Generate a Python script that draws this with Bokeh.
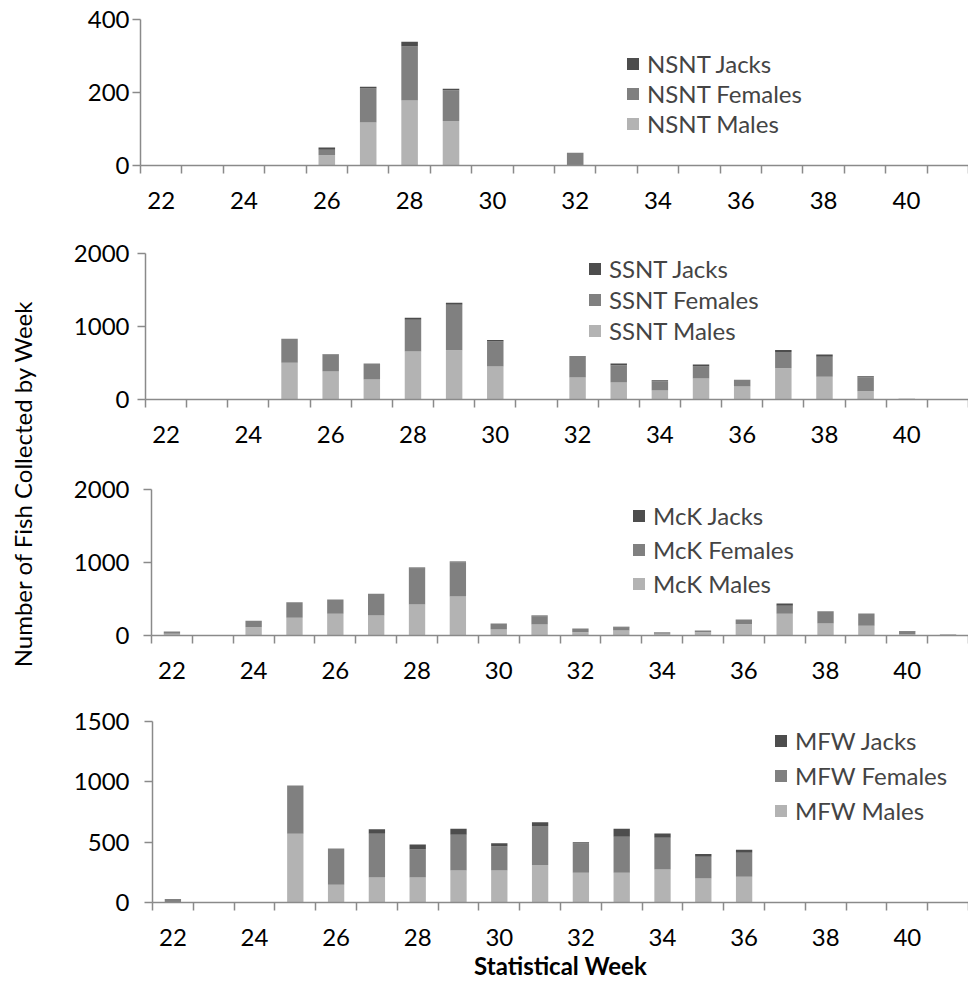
import numpy as np
from bokeh.plotting import figure
from bokeh.models import (Range1d, FixedTicker, LinearAxis, Legend, LegendItem,
                          Label, ColumnDataSource, Spacer)
from bokeh.layouts import row, column
from bokeh.embed import file_html
from bokeh.resources import INLINE

# ---------------- data ----------------
weeks = list(range(22, 42))
x_tick_weeks = list(range(22, 41, 2))

nsnt_males   = [0, 0, 0, 0, 28, 118, 178, 122, 0, 0, 0, 0, 0, 0, 0, 0, 0, 0, 0, 0]
nsnt_females = [0, 0, 0, 0, 15, 93, 148, 84, 0, 0, 35, 0, 0, 0, 0, 0, 0, 0, 0, 0]
nsnt_jacks   = [0, 0, 0, 0, 6, 5, 13, 4, 0, 0, 0, 0, 0, 0, 0, 0, 0, 0, 0, 0]

ssnt_males   = [0, 0, 0, 505, 383, 273, 656, 673, 451, 0, 300, 232, 123, 287, 178, 428, 310, 113, 0, 0]
ssnt_females = [0, 0, 0, 328, 231, 219, 437, 625, 345, 0, 297, 237, 127, 164, 91, 223, 277, 192, 10, 0]
ssnt_jacks   = [0, 0, 0, 0, 5, 0, 27, 27, 20, 0, 0, 23, 14, 27, 0, 28, 28, 13, 0, 0]

mck_males   = [25, 0, 114, 242, 297, 274, 425, 534, 82, 151, 46, 68, 23, 46, 155, 297, 164, 132, 20, 0]
mck_females = [30, 0, 87, 214, 196, 297, 493, 470, 82, 113, 50, 42, 23, 22, 64, 109, 169, 169, 35, 12]
mck_jacks   = [0, 0, 0, 0, 0, 0, 13, 10, 0, 10, 0, 9, 0, 0, 0, 32, 0, 0, 5, 0]

mfw_males   = [0, 0, 0, 569, 147, 207, 207, 265, 265, 310, 246, 246, 273, 199, 213, 0, 0, 0, 0, 0]
mfw_females = [30, 0, 0, 400, 300, 362, 232, 296, 199, 323, 243, 298, 263, 180, 199, 0, 0, 0, 0, 0]
mfw_jacks   = [0, 0, 0, 0, 0, 39, 42, 50, 28, 33, 11, 67, 36, 22, 25, 0, 0, 0, 0, 0]

# ---------------- style ----------------
FONT = "Lato"
FS = "24px"
C_J, C_F, C_M = "#4d4d4d", "#808080", "#b3b3b3"
AX = "#8a8a8a"
COL_W = 916
BASE_LEFT = 86


def panel(name, males, females, jacks, ymax, yticks, shift, h, top, bottom,
          ystand, leg_x, leg_y, leg_lh, xlabel=None):
    p = figure(width=COL_W - shift, height=h, x_range=Range1d(21.5, 41.5),
               y_range=Range1d(0, ymax),
               output_backend="svg", toolbar_location=None,
               x_axis_type=None, y_axis_type=None,
               min_border_left=BASE_LEFT, min_border_right=0,
               min_border_top=top, min_border_bottom=bottom)
    p.outline_line_color = None
    p.xgrid.visible = False
    p.ygrid.visible = False
    src = ColumnDataSource(dict(week=weeks, m=males, f=females, j=jacks))
    rs = p.vbar_stack(["m", "f", "j"], x="week", width=0.4, color=[C_M, C_F, C_J],
                      line_color=None, source=src)

    xa = LinearAxis(ticker=FixedTicker(ticks=x_tick_weeks,
                                       minor_ticks=[21.5 + i for i in range(21)]),
                    major_tick_out=0, major_tick_in=0,
                    minor_tick_out=8, minor_tick_in=0,
                    axis_line_color=AX, axis_line_width=1.5,
                    minor_tick_line_color=AX, minor_tick_line_width=1.5,
                    major_label_text_font=FONT, major_label_text_font_size=FS,
                    major_label_text_color="black", major_label_standoff=18)
    if xlabel:
        xa.axis_label = xlabel
        xa.axis_label_text_font = FONT
        xa.axis_label_text_font_size = FS
        xa.axis_label_text_font_style = "bold"
        xa.axis_label_text_color = "black"
        xa.axis_label_standoff = 2
    p.add_layout(xa, "below")

    ya = LinearAxis(ticker=FixedTicker(ticks=yticks, minor_ticks=[]),
                    major_tick_out=8, major_tick_in=0,
                    minor_tick_out=0, minor_tick_in=0,
                    axis_line_color=AX, axis_line_width=1.5,
                    major_tick_line_color=AX, major_tick_line_width=1.5,
                    major_label_text_font=FONT, major_label_text_font_size=FS,
                    major_label_text_color="black", major_label_standoff=ystand)
    p.add_layout(ya, "left")

    items = [LegendItem(label=f"{name} Jacks", renderers=[rs[2]]),
             LegendItem(label=f"{name} Females", renderers=[rs[1]]),
             LegendItem(label=f"{name} Males", renderers=[rs[0]])]
    leg = Legend(items=items, location=(leg_x, leg_y), orientation="vertical",
                 glyph_width=15, glyph_height=15, label_standoff=7,
                 label_text_font=FONT, label_text_font_size=FS,
                 label_height=leg_lh, spacing=1, padding=0, margin=0,
                 border_line_color=None, background_fill_alpha=0)
    p.add_layout(leg, "center")
    if shift > 0:
        return row(Spacer(width=shift, height=h), p)
    return p


p1 = panel("NSNT", nsnt_males, nsnt_females, nsnt_jacks, 400, [0, 200, 400],
           2, 238, 19, 73, 3, 485, 27, 28)
p2 = panel("SSNT", ssnt_males, ssnt_females, ssnt_jacks, 2000, [0, 1000, 2000],
           7, 236, 15, 75, 8, 442, 54, 30)
p3 = panel("McK", mck_males, mck_females, mck_jacks, 2000, [0, 1000, 2000],
           13, 231, 15, 70, 14, 480, 35, 33)
p4 = panel("MFW", mfw_males, mfw_females, mfw_jacks, 1500, [0, 500, 1000, 1500],
           14, 287, 16, 90, 15, 621, 75, 34, xlabel="Statistical Week")

lf = figure(width=52, height=992, x_range=Range1d(0, 52), y_range=Range1d(0, 992),
            min_border=0, toolbar_location=None, output_backend="svg",
            x_axis_type=None, y_axis_type=None)
lf.outline_line_color = None
lf.xgrid.visible = False
lf.ygrid.visible = False
lf.add_layout(Label(x=22, y=992 - 483, text="Number of Fish Collected by Week",
                    angle=np.pi / 2, text_align="center", text_baseline="middle",
                    text_font=FONT, text_font_size="24px", text_color="black"))

layout = row(lf, column(p1, p2, p3, p4))
open("out.html", "w").write(file_html(layout, INLINE))
